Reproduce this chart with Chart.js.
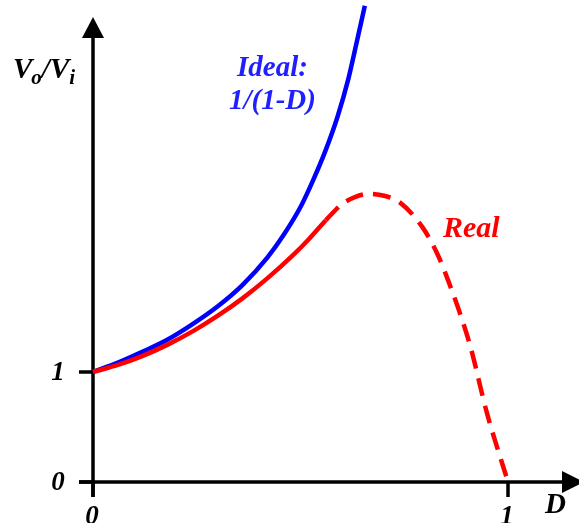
<!DOCTYPE html>
<html>
<head>
<meta charset="utf-8">
<script src="https://cdn.jsdelivr.net/npm/chart.js@4/dist/chart.umd.min.js"></script>
<style>
  html, body { margin: 0; padding: 0; background: #fff; }
  #wrap { width: 579px; height: 523px; }
</style>
</head>
<body>
<div id="wrap"><canvas id="c" width="579" height="523"></canvas></div>
<script>
// Duty cycle D and voltage gain Vo/Vi of the boost converter
const idealD = [0, 0.06, 0.12, 0.18, 0.24, 0.30, 0.36, 0.42, 0.46, 0.50, 0.53, 0.56, 0.59, 0.615, 0.635, 0.655];
const idealV = [1.0, 1.085, 1.185, 1.295, 1.435, 1.595, 1.79, 2.04, 2.25, 2.50, 2.74, 3.01, 3.33, 3.66, 3.99, 4.33];

// Real converter: solid while it still rises, dashed past that
const realSolidD = [0, 0.06, 0.12, 0.18, 0.241, 0.30, 0.361, 0.42, 0.482, 0.52, 0.561];
const realSolidV = [1.0, 1.064, 1.147, 1.249, 1.372, 1.510, 1.672, 1.851, 2.062, 2.207, 2.38];
const realDashD = [0.561, 0.598, 0.631, 0.667, 0.704, 0.740, 0.795, 0.829, 0.855, 0.908, 0.949, 1.0];
const realDashV = [2.38, 2.52, 2.59, 2.62, 2.60, 2.54, 2.31, 2.08, 1.84, 1.25, 0.63, 0];

const xTicks = [0, 1];
const yTicks = [0, 1];
const xTickLabels = ['0', '1'];
const yTickLabels = ['0', '1'];

const toPoints = (xs, ys) => xs.map((x, i) => ({ x: x, y: ys[i] }));

const FONT = '"Liberation Serif", "Times New Roman", serif';
const font = (px) => 'italic bold ' + px + 'px ' + FONT;

// Axes with arrowheads and short tick marks, drawn beneath the curves
const axesPlugin = {
  id: 'arrowAxes',
  beforeDatasetsDraw(chart) {
    const ctx = chart.ctx;
    const xs = chart.scales.x, ys = chart.scales.y;
    const x0 = xs.getPixelForValue(0), y0 = ys.getPixelForValue(0);
    ctx.save();
    ctx.strokeStyle = '#000';
    ctx.fillStyle = '#000';
    ctx.lineWidth = 3.5;
    ctx.lineCap = 'butt';
    // vertical axis
    ctx.beginPath();
    ctx.moveTo(x0, y0 + 15);
    ctx.lineTo(x0, 34);
    ctx.stroke();
    // horizontal axis
    ctx.beginPath();
    ctx.moveTo(x0 - 14, y0);
    ctx.lineTo(566, y0);
    ctx.stroke();
    // arrowheads
    ctx.beginPath();
    ctx.moveTo(x0, 17);
    ctx.lineTo(x0 - 11, 38);
    ctx.lineTo(x0 + 11, 38);
    ctx.closePath();
    ctx.fill();
    ctx.beginPath();
    ctx.moveTo(584, y0);
    ctx.lineTo(562, y0 - 11);
    ctx.lineTo(562, y0 + 11);
    ctx.closePath();
    ctx.fill();
    // ticks
    yTicks.forEach(v => {
      const py = ys.getPixelForValue(v);
      ctx.beginPath();
      ctx.moveTo(x0 - 14, py);
      ctx.lineTo(x0, py);
      ctx.stroke();
    });
    xTicks.forEach(v => {
      const px = xs.getPixelForValue(v);
      ctx.beginPath();
      ctx.moveTo(px, y0);
      ctx.lineTo(px, y0 + 15);
      ctx.stroke();
    });
    ctx.restore();
  },
  afterDraw(chart) {
    const ctx = chart.ctx;
    const xs = chart.scales.x, ys = chart.scales.y;
    const x0 = xs.getPixelForValue(0), y0 = ys.getPixelForValue(0);
    ctx.save();
    ctx.textBaseline = 'alphabetic';
    ctx.fillStyle = '#000';
    ctx.font = font(27);
    // tick labels
    ctx.textAlign = 'center';
    yTicks.forEach((v, i) => {
      ctx.fillText(yTickLabels[i], x0 - 35, ys.getPixelForValue(v) + 8);
    });
    xTicks.forEach((v, i) => {
      ctx.fillText(xTickLabels[i], xs.getPixelForValue(v) - 1, y0 + 42);
    });
    // axis names
    ctx.textAlign = 'left';
    ctx.font = font(29);
    ctx.fillText('D', 545, y0 + 31);
    let cx = 13;
    const base = 78;
    const part = (t, size, drop) => {
      ctx.font = font(size);
      ctx.fillText(t, cx, base + drop);
      cx += ctx.measureText(t).width;
    };
    part('V', 29, 0);
    cx -= 1;
    part('o', 21, 6);
    part('/', 29, 0);
    part('V', 29, 0);
    part('i', 21, 6);
    // curve annotations
    ctx.font = font(29);
    ctx.fillStyle = '#1f1fff';
    ctx.fillText('Ideal:', 237, 76);
    ctx.fillText('1/(1-D)', 229, 109);
    ctx.fillStyle = '#ff0000';
    ctx.font = font(30);
    ctx.fillText('Real', 443, 237);
    ctx.restore();
  }
};

new Chart(document.getElementById('c'), {
  type: 'line',
  data: {
    datasets: [
      {
        label: 'Real',
        data: toPoints(realSolidD, realSolidV),
        borderColor: '#ff0000',
        borderWidth: 4.5,
        pointRadius: 0,
        cubicInterpolationMode: 'monotone',
        fill: false,
        clip: false
      },
      {
        label: 'Real (dashed)',
        data: toPoints(realDashD, realDashV),
        borderColor: '#ff0000',
        borderWidth: 4.5,
        borderDash: [18, 10],
        borderCapStyle: 'butt',
        pointRadius: 0,
        cubicInterpolationMode: 'monotone',
        fill: false,
        clip: false
      },
      {
        label: 'Ideal: 1/(1-D)',
        data: toPoints(idealD, idealV),
        borderColor: '#0000ff',
        borderWidth: 4.5,
        pointRadius: 0,
        cubicInterpolationMode: 'monotone',
        fill: false,
        clip: false
      }
    ]
  },
  options: {
    responsive: false,
    animation: false,
    layout: { padding: { left: 93, right: 0, top: 0, bottom: 41 } },
    scales: {
      x: { type: 'linear', min: 0, max: 486 / 415, display: false },
      y: { type: 'linear', min: 0, max: 482 / 110, display: false }
    },
    plugins: {
      legend: { display: false },
      tooltip: { enabled: false }
    }
  },
  plugins: [axesPlugin]
});
</script>
</body>
</html>
